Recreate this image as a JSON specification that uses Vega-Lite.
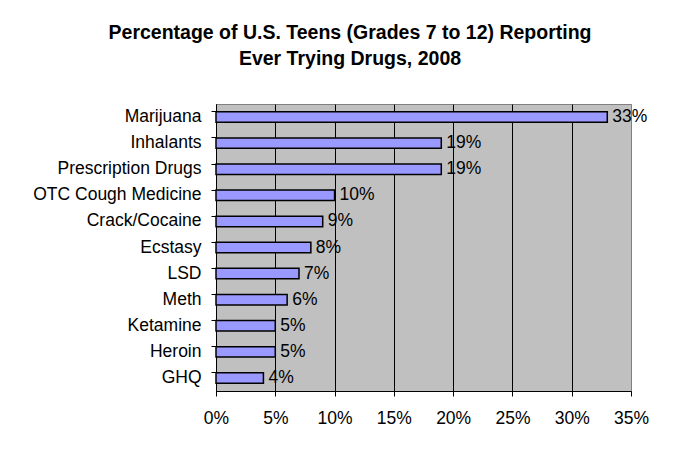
{
  "$schema": "https://vega.github.io/schema/vega-lite/v6.json",
  "width": 415,
  "height": 287,
  "autosize": {"type": "none"},
  "padding": {"left": 216, "top": 104, "right": 42, "bottom": 60},
  "background": "white",
  "title": {
    "text": ["Percentage of U.S. Teens (Grades 7 to 12) Reporting", "Ever Trying Drugs, 2008"],
    "font": "Liberation Sans",
    "fontSize": 19.5,
    "fontWeight": "bold",
    "color": "black",
    "lineHeight": 26,
    "anchor": "middle",
    "frame": "group",
    "dx": -73.5,
    "offset": 35
  },
  "data": {
    "values": [
      {"drug": "Marijuana", "pct": 0.33},
      {"drug": "Inhalants", "pct": 0.19},
      {"drug": "Prescription Drugs", "pct": 0.19},
      {"drug": "OTC Cough Medicine", "pct": 0.10},
      {"drug": "Crack/Cocaine", "pct": 0.09},
      {"drug": "Ecstasy", "pct": 0.08},
      {"drug": "LSD", "pct": 0.07},
      {"drug": "Meth", "pct": 0.06},
      {"drug": "Ketamine", "pct": 0.05},
      {"drug": "Heroin", "pct": 0.05},
      {"drug": "GHQ", "pct": 0.04}
    ]
  },
  "encoding": {
    "y": {
      "field": "drug",
      "type": "nominal",
      "sort": null,
      "scale": {"paddingInner": 0.6, "paddingOuter": 0.3},
      "axis": {
        "title": null,
        "labelFont": "Liberation Sans",
        "labelFontSize": 17.5,
        "labelColor": "black",
        "labelPadding": 10,
        "labelLimit": 400,
        "tickColor": "black",
        "tickSize": 5,
        "bandPosition": 0,
        "domainColor": "black",
        "grid": false
      }
    },
    "x": {
      "field": "pct",
      "type": "quantitative",
      "scale": {"domain": [0, 0.35], "nice": false},
      "axis": {
        "title": null,
        "format": ".0%",
        "values": [0, 0.05, 0.1, 0.15, 0.2, 0.25, 0.3, 0.35],
        "labelFont": "Liberation Sans",
        "labelFontSize": 17.5,
        "labelColor": "black",
        "labelPadding": 13,
        "labelFlush": false,
        "labelOverlap": false,
        "tickColor": "black",
        "tickSize": 5,
        "domainColor": "black",
        "grid": true,
        "gridOpacity": 1,
        "gridColor": {"condition": {"test": "datum.value >= 0.349", "value": "#808080"}, "value": "black"}
      }
    }
  },
  "layer": [
    {"mark": {"type": "bar", "fill": "#9999FF", "stroke": "black", "strokeWidth": 1.5}},
    {
      "mark": {"type": "text", "align": "left", "dx": 5, "baseline": "middle", "font": "Liberation Sans", "fontSize": 17.5, "color": "black"},
      "encoding": {"text": {"field": "pct", "format": ".0%"}}
    }
  ],
  "config": {"view": {"fill": "#C0C0C0", "stroke": "#808080", "strokeWidth": 1}}
}
